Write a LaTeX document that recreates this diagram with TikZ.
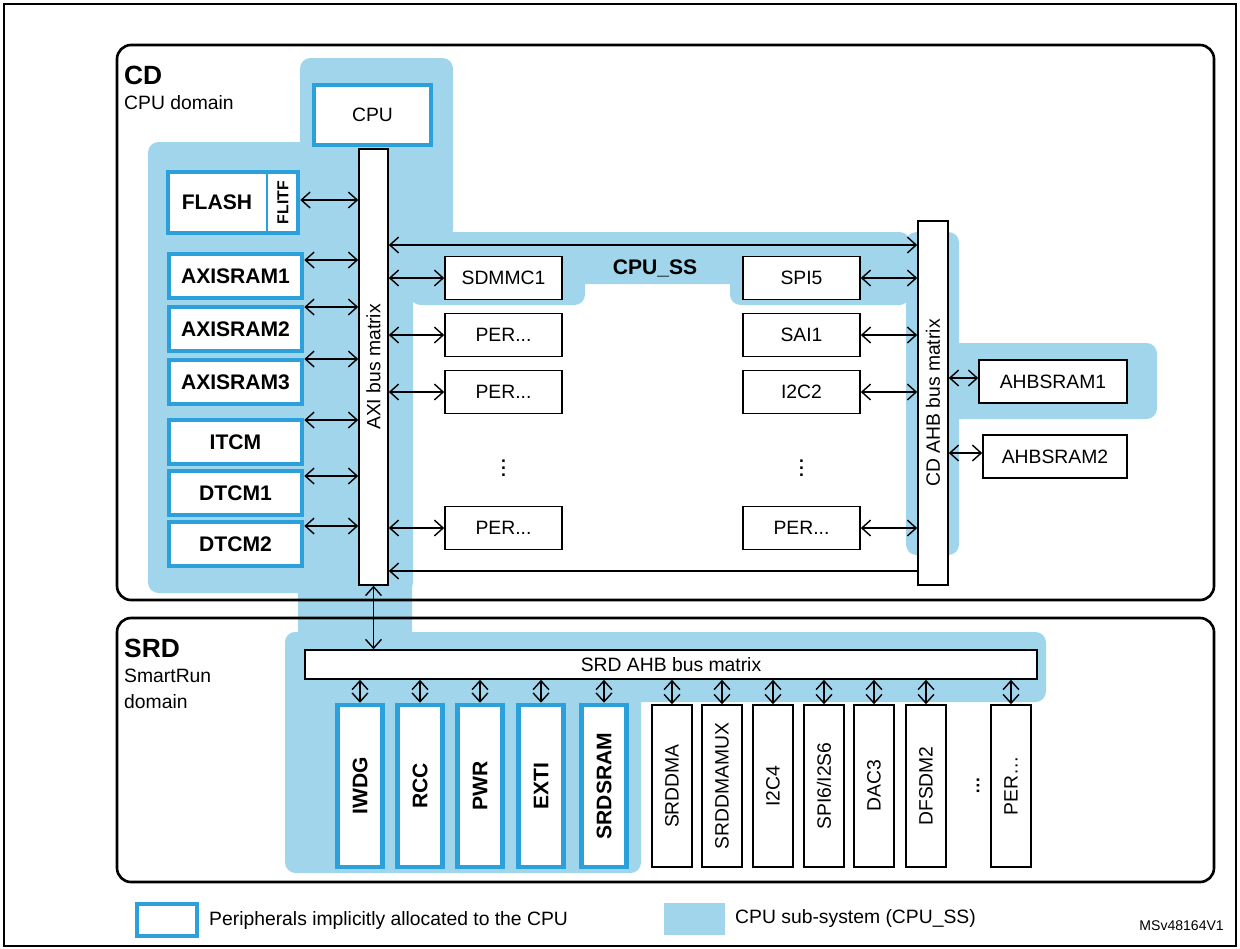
\documentclass[tikz,border=0pt]{standalone}
\usepackage{fontspec}
\setmainfont{Liberation Sans}
\usetikzlibrary{arrows.meta}
\definecolor{ssfill}{RGB}{160,213,236}
\definecolor{ssline}{RGB}{44,160,218}
\tikzset{
  blu/.style={draw=ssline, line width=2.6pt, fill=white, inner sep=0pt, font=\fontsize{12}{14}\selectfont\bfseries},
  per/.style={draw=black, line width=0.9pt, fill=white, inner sep=0pt, font=\fontsize{11}{13}\selectfont},
  bus/.style={draw=black, line width=0.9pt, fill=white, inner sep=0pt, font=\fontsize{11}{13}\selectfont},
  lnk/.style={<->, line width=0.8pt},
  ss/.style={fill=ssfill, rounded corners=6pt},
  dom/.style={draw=black, line width=1.5pt, rounded corners=8pt},
}
\begin{document}
\begin{tikzpicture}[x=0.02cm,y=-0.02cm,>={Straight Barb[length=5pt,width=9pt]}]
  \useasboundingbox (0,0) rectangle (1240,948);
  \draw [line width=1.2pt] (4,4) rectangle (1236,946);
  % CPU sub-system area
  \fill [ss] (300,58) rectangle (453,240);
  \fill [ss] (148,142) rectangle (413,593);
  \fill [ss] (410,232) rectangle (906,284);
  \fill [ss] (410,232) rectangle (585,305);
  \fill [ss] (730,232) rectangle (910,305);
  \fill [ss] (906,232) rectangle (959,555);
  \fill [ss] (940,343) rectangle (1157,419);
  \fill [ss] (298,560) rectangle (412,650);
  \fill [ss] (285,632) rectangle (1046,702);
  \fill [ss] (285,632) rectangle (641,873);
  % domains
  \draw [dom] (117,45) rectangle (1214,600);
  \draw [dom] (117,618) rectangle (1214,882);
  \node [anchor=west, font=\fontsize{15}{17}\selectfont\bfseries] (cd) at (118,75) {CD};
  \node [anchor=west, font=\fontsize{11}{13}\selectfont] (cdn) at (118,103) {CPU domain};
  \node [anchor=west, font=\fontsize{15}{17}\selectfont\bfseries] (srdl) at (118,648) {SRD};
  \node [anchor=west, font=\fontsize{11}{13}\selectfont] (srdn) at (118,676) {SmartRun};
  \node [anchor=west, font=\fontsize{11}{13}\selectfont] (srdd) at (118,702) {domain};
  % CD blocks
  \node [blu, font=\fontsize{11}{13}\selectfont, minimum width=2.34cm, minimum height=1.2cm] (cpu) at (372.5,115) {CPU};
  \node [bus, minimum width=0.58cm, minimum height=8.72cm] (axi) at (373.5,367) {};
  \node [rotate=90, font=\fontsize{11}{13}\selectfont] (axit) at (axi) {AXI bus matrix};
  \node [blu, minimum width=2.6cm, minimum height=1.22cm] (fl) at (233,202.5) {};
  \node [font=\fontsize{12}{14}\selectfont\bfseries] (flt) at (217,202.5) {FLASH};
  \node [rotate=90, font=\fontsize{9}{10}\selectfont\bfseries] (flitf) at (283,202.5) {FLITF};
  \draw [ssline, line width=1.2pt] (267,172) -- (267,233);
  \node [blu, minimum width=2.66cm, minimum height=0.88cm] (ax1) at (235.5,276) {AXISRAM1};
  \node [blu, minimum width=2.66cm, minimum height=0.88cm] (ax2) at (235.5,329) {AXISRAM2};
  \node [blu, minimum width=2.66cm, minimum height=0.88cm] (ax3) at (235.5,382) {AXISRAM3};
  \node [blu, minimum width=2.66cm, minimum height=0.88cm] (itcm) at (235.5,442) {ITCM};
  \node [blu, minimum width=2.66cm, minimum height=0.88cm] (dt1) at (235.5,493) {DTCM1};
  \node [blu, minimum width=2.66cm, minimum height=0.88cm] (dt2) at (235.5,544) {DTCM2};
  \draw [lnk] (fl.east |- 0,200) -- (axi.west |- 0,200);
  \draw [lnk] (ax1.east |- 0,260) -- (axi.west |- 0,260);
  \draw [lnk] (ax2.east |- 0,307) -- (axi.west |- 0,307);
  \draw [lnk] (ax3.east |- 0,359) -- (axi.west |- 0,359);
  \draw [lnk] (itcm.east |- 0,420) -- (axi.west |- 0,420);
  \draw [lnk] (dt1.east |- 0,476) -- (axi.west |- 0,476);
  \draw [lnk] (dt2.east |- 0,526) -- (axi.west |- 0,526);
  \node [bus, minimum width=0.6cm, minimum height=7.28cm] (ahb) at (933,403) {};
  \node [rotate=90, font=\fontsize{11}{13}\selectfont] (ahbt) at (ahb) {CD AHB bus matrix};
  \node [per, minimum width=2.34cm, minimum height=0.86cm] (sdmmc) at (503.5,278) {SDMMC1};
  \node [per, minimum width=2.34cm, minimum height=0.86cm] (pl1) at (503.5,335) {PER...};
  \node [per, minimum width=2.34cm, minimum height=0.86cm] (pl2) at (503.5,392) {PER...};
  \node [font=\bfseries] (dl) at (503.5,463) {\vdots};
  \node [per, minimum width=2.34cm, minimum height=0.86cm] (pl3) at (503.5,528) {PER...};
  \node [per, minimum width=2.34cm, minimum height=0.86cm] (spi5) at (801.5,278) {SPI5};
  \node [per, minimum width=2.34cm, minimum height=0.86cm] (sai1) at (801.5,335) {SAI1};
  \node [per, minimum width=2.34cm, minimum height=0.86cm] (i2c2) at (801.5,392) {I2C2};
  \node [font=\bfseries] (dr) at (801.5,463) {\vdots};
  \node [per, minimum width=2.34cm, minimum height=0.86cm] (pr3) at (801.5,528) {PER...};
  \node [font=\fontsize{12}{14}\selectfont\bfseries] (cpuss) at (655,268) {CPU\_SS};
  \foreach \n in {sdmmc,pl1,pl2,pl3}
    \draw [lnk] (axi.east |- \n.west) -- (\n.west);
  \foreach \n in {spi5,sai1,i2c2,pr3}
    \draw [lnk] (\n.east) -- (ahb.west |- \n.east);
  \draw [lnk] (axi.east |- 0,245) -- (ahb.west |- 0,245);
  \draw [->, line width=0.8pt] (ahb.west |- 0,571) -- (axi.east |- 0,571);
  \node [per, minimum width=2.96cm, minimum height=0.86cm] (hs1) at (1053,381.5) {AHBSRAM1};
  \node [per, minimum width=2.88cm, minimum height=0.86cm] (hs2) at (1055,456.5) {AHBSRAM2};
  \draw [lnk] (ahb.east |- 0,378) -- (hs1.west |- 0,378);
  \draw [lnk] (ahb.east |- 0,453) -- (hs2.west |- 0,453);
  % SRD blocks
  \node [bus, minimum width=14.64cm, minimum height=0.58cm] (srd) at (671,664.5) {SRD AHB bus matrix};
  \draw [lnk] (axi.south) -- (axi.south |- srd.north);
  \foreach \n/\x/\t in {iwdg/360/{IWDG},rcc/420/{RCC},pwr/480/{PWR},exti/541/{EXTI},srdsram/604/{SRDSRAM}}
  {
    \node [blu, minimum width=0.9cm, minimum height=3.24cm] (\n) at (\x,786) {};
    \node [rotate=90, font=\fontsize{12}{14}\selectfont\bfseries] at (\n) {\t};
    \draw [lnk] (srd.south -| \n.north) -- (\n.north);
  }
  \foreach \n/\x/\t in {srddma/672/{SRDDMA},srddmamux/722/{SRDDMAMUX},itc4/773/{I2C4},spi6/824/{SPI6/I2S6},dac3/874/{DAC3},dfsdm2/926/{DFSDM2},perx/1011/{PER\ldots}}
  {
    \node [per, minimum width=0.8cm, minimum height=3.24cm] (\n) at (\x,786) {};
    \node [rotate=90, font=\fontsize{11}{13}\selectfont] at (\n) {\t};
    \draw [lnk] (srd.south -| \n.north) -- (\n.north);
  }
  \node [rotate=90, font=\bfseries] (dsrd) at (978,786) {\ldots};
  % legend
  \node [blu, minimum width=1.2cm, minimum height=0.64cm] (lg1) at (167,920) {};
  \node [anchor=west, font=\fontsize{11}{13}\selectfont] (lg1t) at (203,920) {Peripherals implicitly allocated to the CPU};
  \node [fill=ssfill, minimum width=1.22cm, minimum height=0.64cm] (lg2) at (694.5,919) {};
  \node [anchor=west, font=\fontsize{11}{13}\selectfont] (lg2t) at (729,918) {CPU sub-system (CPU\_SS)};
  \node [anchor=east, font=\fontsize{8}{10}\selectfont] (msv) at (1230,926) {MSv48164V1};
\end{tikzpicture}
\end{document}
